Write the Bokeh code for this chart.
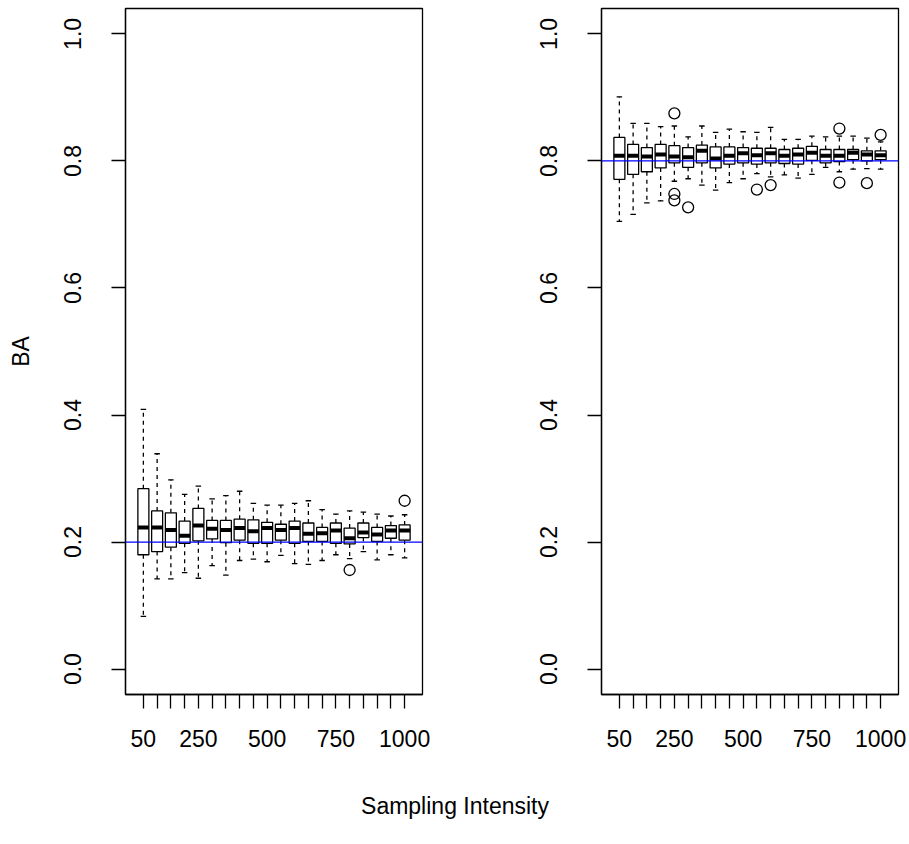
import math
from bokeh.plotting import figure
from bokeh.layouts import row, column
from bokeh.models import Range1d, FixedTicker, Label, Span
from bokeh.embed import file_html
from bokeh.resources import INLINE

# ---------------- data ----------------
sizes = [50, 100, 150, 200, 250, 300, 350, 400, 450, 500,
         550, 600, 650, 700, 750, 800, 850, 900, 950, 1000]
shown_labels = {50: "50", 250: "250", 500: "500", 750: "750", 1000: "1000"}
y_ticks = [0.0, 0.2, 0.4, 0.6, 0.8, 1.0]
y_tick_labels = ["0.0", "0.2", "0.4", "0.6", "0.8", "1.0"]

# left panel (true value 0.2)
left_target = 0.2
left_lower = [0.083, 0.142, 0.142, 0.152, 0.143, 0.163, 0.148, 0.171, 0.173, 0.169,
              0.179, 0.166, 0.165, 0.171, 0.180, 0.174, 0.185, 0.172, 0.180, 0.175]
left_q1 = [0.180, 0.185, 0.192, 0.198, 0.202, 0.205, 0.199, 0.203, 0.198, 0.198,
           0.203, 0.198, 0.201, 0.201, 0.198, 0.197, 0.207, 0.201, 0.206, 0.203]
left_med = [0.223, 0.223, 0.219, 0.210, 0.226, 0.221, 0.219, 0.222, 0.217, 0.222,
            0.219, 0.222, 0.213, 0.214, 0.218, 0.206, 0.215, 0.212, 0.218, 0.218]
left_q3 = [0.284, 0.249, 0.246, 0.233, 0.253, 0.234, 0.234, 0.236, 0.235, 0.231,
           0.228, 0.233, 0.230, 0.223, 0.230, 0.222, 0.230, 0.223, 0.226, 0.227]
left_upper = [0.409, 0.339, 0.298, 0.275, 0.288, 0.268, 0.273, 0.280, 0.261, 0.258,
              0.258, 0.261, 0.265, 0.251, 0.244, 0.249, 0.247, 0.244, 0.241, 0.243]
left_out_size = [800, 1000]
left_out_val = [0.156, 0.265]

# right panel (true value 0.8)
right_target = 0.8
right_lower = [0.705, 0.716, 0.734, 0.737, 0.768, 0.772, 0.762, 0.754, 0.766, 0.772,
               0.780, 0.775, 0.778, 0.773, 0.779, 0.790, 0.783, 0.787, 0.788, 0.787]
right_q1 = [0.771, 0.779, 0.783, 0.789, 0.797, 0.790, 0.797, 0.789, 0.795, 0.797,
            0.795, 0.797, 0.796, 0.795, 0.801, 0.797, 0.799, 0.802, 0.800, 0.802]
right_med = [0.808, 0.808, 0.807, 0.810, 0.807, 0.806, 0.816, 0.804, 0.808, 0.812,
             0.809, 0.812, 0.808, 0.810, 0.813, 0.808, 0.808, 0.813, 0.810, 0.809]
right_q3 = [0.837, 0.826, 0.821, 0.826, 0.824, 0.821, 0.825, 0.822, 0.822, 0.821,
            0.820, 0.820, 0.818, 0.820, 0.823, 0.818, 0.818, 0.818, 0.816, 0.816]
right_upper = [0.901, 0.859, 0.859, 0.854, 0.855, 0.838, 0.855, 0.845, 0.850, 0.846,
               0.845, 0.853, 0.834, 0.834, 0.839, 0.838, 0.839, 0.839, 0.836, 0.830]
right_out_size = [250, 250, 250, 300, 550, 600, 850, 850, 950, 1000]
right_out_val = [0.875, 0.748, 0.738, 0.727, 0.755, 0.762, 0.851, 0.766, 0.765, 0.841]

y_label = "BA"
x_label = "Sampling Intensity"

# ---------------- styling ----------------
FONT = "Liberation Sans"
FS = "23px"
LW = 1.3
BOXW = 0.8
STAPLE = 0.4


def make_panel(lower, q1, med, q3, upper, out_size, out_val, target,
               border_left, border_right, ylab=None):
    pos = {s: i + 1 for i, s in enumerate(sizes)}
    xs = [pos[s] for s in sizes]
    p = figure(frame_width=297, frame_height=686,
               min_border_left=border_left, min_border_right=border_right,
               min_border_top=8, min_border_bottom=86,
               x_range=Range1d(0.5 - 0.04 * len(sizes), len(sizes) + 0.5 + 0.04 * len(sizes)),
               y_range=Range1d(-0.04, 1.04),
               output_backend="svg", toolbar_location=None,
               background_fill_color="white", border_fill_color="white")
    p.grid.visible = False
    p.outline_line_color = "black"
    p.outline_line_width = LW

    # whiskers
    p.segment(x0=xs, y0=q3, x1=xs, y1=upper, line_color="black",
              line_width=LW, line_dash="4 4")
    p.segment(x0=xs, y0=q1, x1=xs, y1=lower, line_color="black",
              line_width=LW, line_dash="4 4")
    # staples
    p.segment(x0=[x - STAPLE / 2 for x in xs], y0=upper,
              x1=[x + STAPLE / 2 for x in xs], y1=upper, line_color="black", line_width=LW)
    p.segment(x0=[x - STAPLE / 2 for x in xs], y0=lower,
              x1=[x + STAPLE / 2 for x in xs], y1=lower, line_color="black", line_width=LW)
    # boxes
    p.quad(left=[x - BOXW / 2 for x in xs], right=[x + BOXW / 2 for x in xs],
           top=q3, bottom=q1, fill_color="white", line_color="black", line_width=LW)
    # medians
    p.segment(x0=[x - BOXW / 2 for x in xs], y0=med,
              x1=[x + BOXW / 2 for x in xs], y1=med,
              line_color="black", line_width=4, line_cap="butt")
    # outliers
    p.scatter(x=[pos[s] for s in out_size], y=out_val, marker="circle", size=11,
              fill_color=None, line_color="black", line_width=LW)
    # reference line
    p.add_layout(Span(location=target, dimension="width", line_color="blue",
                      line_width=LW))

    # x axis
    xa = p.xaxis[0]
    xa.ticker = FixedTicker(ticks=xs)
    xa.major_label_overrides = {pos[s]: shown_labels.get(s, "") for s in sizes}
    xa.major_tick_out = 14
    xa.major_tick_in = 0
    xa.minor_tick_out = 0
    xa.minor_tick_in = 0
    xa.major_tick_line_width = LW
    xa.axis_line_width = LW
    xa.major_label_text_font = FONT
    xa.major_label_text_font_size = FS
    xa.major_label_text_color = "black"
    xa.major_label_standoff = 21

    # y axis
    ya = p.yaxis[0]
    ya.ticker = FixedTicker(ticks=y_ticks)
    ya.major_label_overrides = {t: l for t, l in zip(y_ticks, y_tick_labels)}
    ya.major_label_orientation = "parallel"
    ya.major_tick_out = 14
    ya.major_tick_in = 0
    ya.minor_tick_out = 0
    ya.minor_tick_in = 0
    ya.major_tick_line_width = LW
    ya.axis_line_width = LW
    ya.major_label_text_font = FONT
    ya.major_label_text_font_size = FS
    ya.major_label_text_color = "black"
    ya.major_label_standoff = 30
    if ylab:
        ya.axis_label = ylab
        ya.axis_label_text_font = FONT
        ya.axis_label_text_font_size = FS
        ya.axis_label_text_font_style = "normal"
        ya.axis_label_text_color = "black"
        ya.axis_label_standoff = 28
    return p


p1 = make_panel(left_lower, left_q1, left_med, left_q3, left_upper,
                left_out_size, left_out_val, left_target, 125, 33, ylab=y_label)
p2 = make_panel(right_lower, right_q1, right_med, right_q3, right_upper,
                right_out_size, right_out_val, right_target, 146, 11)

# caption strip
p3 = figure(frame_width=909, frame_height=64, min_border=0,
            x_range=Range1d(0, 909), y_range=Range1d(0, 64),
            output_backend="svg", toolbar_location=None,
            background_fill_color="white", border_fill_color="white")
p3.axis.visible = False
p3.grid.visible = False
p3.outline_line_color = None
p3.add_layout(Label(x=454.5, y=39, text=x_label, text_align="center",
                    text_baseline="alphabetic", text_font=FONT,
                    text_font_size=FS, text_color="black"))

layout = column(row(p1, p2), p3)

html = file_html(layout, INLINE, "BA boxplots")
with open("out.html", "w") as f:
    f.write(html)
